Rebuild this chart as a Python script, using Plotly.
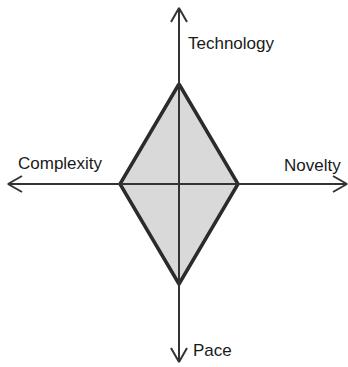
import plotly.graph_objects as go

# diamond values on each axis (axis unit ~ pixel)
axes = ["Technology", "Novelty", "Pace", "Complexity"]
values = [100, 59, 100, 59]
# direction of each axis (x, y)
dirs = [(0, 1), (1, 0), (0, -1), (-1, 0)]
# axis extents
axis_len = [176, 168, 178, 171]

fig = go.Figure()

xs = [d[0] * v for d, v in zip(dirs, values)]
ys = [d[1] * v for d, v in zip(dirs, values)]
fig.add_trace(go.Scatter(x=xs + xs[:1], y=ys + ys[:1], mode="lines", fill="toself",
                         fillcolor="#d9d9d9", line=dict(color="#2b2b2b", width=3.5),
                         hoverinfo="skip"))

# axis lines with open arrowheads
head, half = 14, 8
for (dx, dy), L in zip(dirs, axis_len):
    tx, ty = dx * L, dy * L
    fig.add_trace(go.Scatter(x=[0, tx], y=[0, ty], mode="lines",
                             line=dict(color="#333333", width=2), hoverinfo="skip"))
    bx, by = tx - dx * head, ty - dy * head
    px_, py_ = -dy * half, dx * half
    fig.add_trace(go.Scatter(x=[bx + px_, tx, bx - px_], y=[by + py_, ty, by - py_],
                             mode="lines", line=dict(color="#333333", width=2),
                             hoverinfo="skip"))

label_pos = {
    "Technology": (7, 141, "left"),
    "Novelty": (164, 19, "right"),
    "Pace": (12, -166, "left"),
    "Complexity": (-163, 21, "left"),
}
for name in axes:
    x, y, anchor = label_pos[name]
    fig.add_annotation(x=x, y=y, text=name, showarrow=False, xanchor=anchor,
                       yanchor="middle",
                       font=dict(family="Liberation Sans Narrow, Arial Narrow, Liberation Sans",
                                 size=17, color="#1a1a1a"))

fig.update_layout(
    width=348, height=367, margin=dict(l=0, r=0, t=0, b=0),
    paper_bgcolor="white", plot_bgcolor="white", showlegend=False,
    xaxis=dict(range=[-179, 169], visible=False, fixedrange=True),
    yaxis=dict(range=[-183, 184], visible=False, fixedrange=True),
)

fig.write_html("out.html", config={"displayModeBar": False},
               post_script="document.body.style.margin='0';document.body.style.overflow='hidden';")
